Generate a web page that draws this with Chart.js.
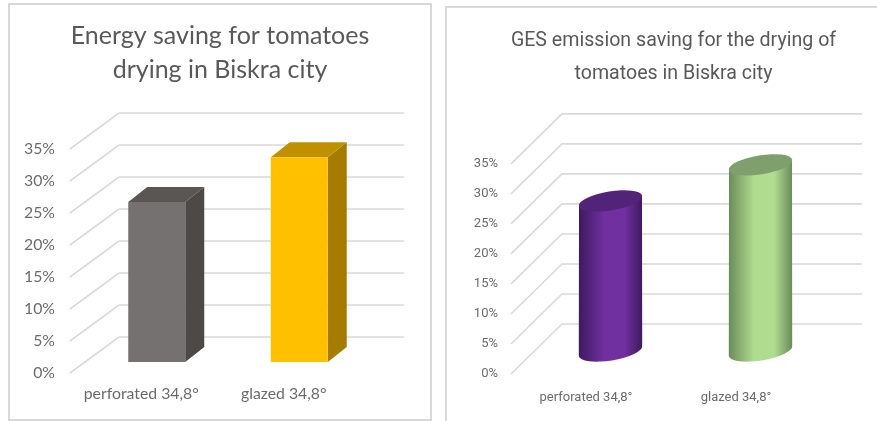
<!DOCTYPE html>
<html><head><meta charset="utf-8">
<script src="https://cdn.jsdelivr.net/npm/chart.js@4"></script>
<style>
html,body{margin:0;padding:0;background:#fff;width:877px;height:421px;overflow:hidden}
.p{position:absolute;box-sizing:border-box;border:2px solid #d9d9d9}
canvas{position:absolute;top:0}
</style></head><body>
<div class="p" style="left:8px;top:3px;width:424px;height:418px"></div>
<div class="p" style="left:445px;top:6px;width:440px;height:430px"></div>
<canvas id="a" width="440" height="421" style="left:0"></canvas>
<canvas id="b" width="407" height="421" style="left:470px"></canvas>
<script>
const categories = ['perforated 34,8°', 'glazed 34,8°'];
const energySaving = [25, 32];
const gesSaving = [25, 31];
const energyColors = ['#767171', '#ffc000'];
const energySide = ['#4c4947', '#a67c00'];
const energyTop = ['#5a5654', '#bf9000'];
const gesColors = ['#7030a0', '#b0dc90'];
const gesEdge = ['#3e1a5f', '#6c8c5a'];
const gesTop = ['#512379', '#7f9f6c'];
const tickValues = [0, 5, 10, 15, 20, 25, 30, 35];

function wall(depth) {
  return {
    id: 'wall',
    afterLayout(chart) {
      chart.titleBlock.left = 0;
      chart.titleBlock.right = chart.width;
    },
    beforeDatasetsDraw(chart) {
      const { ctx, scales: { x, y } } = chart;
      ctx.save();
      ctx.strokeStyle = '#d9d9d9';
      ctx.lineWidth = 1.6;
      tickValues.forEach(v => {
        const py = y.getPixelForValue(v);
        ctx.beginPath();
        ctx.moveTo(x.left, py);
        ctx.lineTo(x.left + depth.dx, py - depth.dy);
        ctx.lineTo(x.right + depth.dx, py - depth.dy);
        ctx.stroke();
      });
      ctx.restore();
    }
  };
}

const boxes = {
  id: 'boxes',
  beforeDatasetDraw(chart) {
    const { ctx } = chart;
    const o = chart.options.plugins.boxes;
    chart.getDatasetMeta(0).data.forEach((bar, i) => {
      const w = bar.width / 2, l = bar.x - w + o.sx, r = bar.x + w + o.sx;
      const t = bar.y - o.sy, b = bar.base - o.sy;
      ctx.fillStyle = energySide[i];
      ctx.beginPath();
      ctx.moveTo(r, t); ctx.lineTo(r + o.bx, t - o.by); ctx.lineTo(r + o.bx, b - o.by); ctx.lineTo(r, b);
      ctx.fill();
      ctx.fillStyle = energyTop[i];
      ctx.beginPath();
      ctx.moveTo(l, t); ctx.lineTo(l + o.bx, t - o.by); ctx.lineTo(r + o.bx, t - o.by); ctx.lineTo(r, t);
      ctx.fill();
    });
    ctx.save();
    ctx.translate(o.sx, -o.sy);
  },
  afterDatasetDraw(chart) { chart.ctx.restore(); }
};

const cylinders = {
  id: 'cylinders',
  beforeDatasetDraw(chart) {
    const { ctx } = chart;
    const o = chart.options.plugins.cylinders;
    chart.getDatasetMeta(0).data.forEach((bar, i) => {
      const rx = bar.width / 2, cx = bar.x + o.sx;
      const top = bar.y - o.sy, base = bar.base - o.sy;
      const g = ctx.createLinearGradient(cx - rx, 0, cx + rx, 0);
      g.addColorStop(0, gesEdge[i]);
      g.addColorStop(0.4, gesColors[i]);
      g.addColorStop(0.72, gesColors[i]);
      g.addColorStop(1, gesEdge[i]);
      const rot = -0.16, ry = 9.5;
      const dy = Math.sin(rot) * rx;
      ctx.fillStyle = g;
      ctx.beginPath();
      ctx.ellipse(cx, base, rx + 0.6, ry, rot, 0, Math.PI);
      ctx.lineTo(cx - rx, top - dy);
      ctx.lineTo(cx + rx, top + dy);
      ctx.closePath();
      ctx.fill();
      ctx.fillStyle = gesTop[i];
      ctx.beginPath();
      ctx.ellipse(cx, top, rx + 0.6, ry, rot, 0, 2 * Math.PI);
      ctx.fill();
    });
    return false;
  }
};

function build(id, values, colors, cfg, plugins) {
  return new Chart(document.getElementById(id), {
    type: 'bar',
    data: { labels: categories, datasets: [{ data: values, backgroundColor: colors, borderWidth: 0,
      barPercentage: cfg.barPct, categoryPercentage: 1 }] },
    options: {
      responsive: false, animation: false, clip: false,
      layout: { padding: { left: 0, right: cfg.padRight, top: 0, bottom: 0 } },
      plugins: {
        legend: { display: false }, tooltip: { enabled: false },
        title: { display: true, text: cfg.title, color: '#595959', font: cfg.titleFont,
          padding: cfg.titlePad },
        boxes: cfg.shift, cylinders: cfg.shift
      },
      scales: {
        x: { grid: { display: false, drawTicks: false }, border: { display: false },
          ticks: { color: '#6b6b6b', font: cfg.tickFont, padding: cfg.xPad, maxRotation: 0 },
          afterFit(s) { s.height = cfg.xHeight; } },
        y: { min: 0, max: 35, grid: { display: false, drawTicks: false }, border: { display: false },
          ticks: { stepSize: 5, color: '#6b6b6b', font: cfg.tickFont, padding: cfg.yPad,
            callback: v => v + '%' },
          afterFit(s) { s.width = cfg.yWidth; } }
      }
    },
    plugins: plugins
  });
}

build('a', energySaving, energyColors, {
  title: ['Energy saving for tomatoes', 'drying in Biskra city'],
  titleFont: { family: 'Lato', size: 25, lineHeight: 1.36, weight: 'normal' },
  titlePad: { top: 19, bottom: 62 },
  tickFont: { family: 'Lato', size: 15.8 }, barPct: 0.4, padRight: 85,
  xPad: 11, xHeight: 48, yPad: 15, yWidth: 70,
  shift: { sx: 15.5, sy: 11, bx: 19, by: 15 }
}, [wall({ dx: 49, dy: 36 }), boxes]);

build('b', gesSaving, gesColors, {
  title: ['GES emission saving for the drying of', 'tomatoes in Biskra city'],
  titleFont: { family: 'Roboto', size: 19.6, lineHeight: 1.68, weight: 'normal' },
  titlePad: { top: 25, bottom: 73 },
  tickFont: { family: 'Roboto', size: 13 }, barPct: 0.42, padRight: 66,
  xPad: 16, xHeight: 47, yPad: 13, yWidth: 41,
  shift: { sx: 24.5, sy: 23 }
}, [wall({ dx: 51, dy: 50 }), cylinders]);
</script>
</body></html>
